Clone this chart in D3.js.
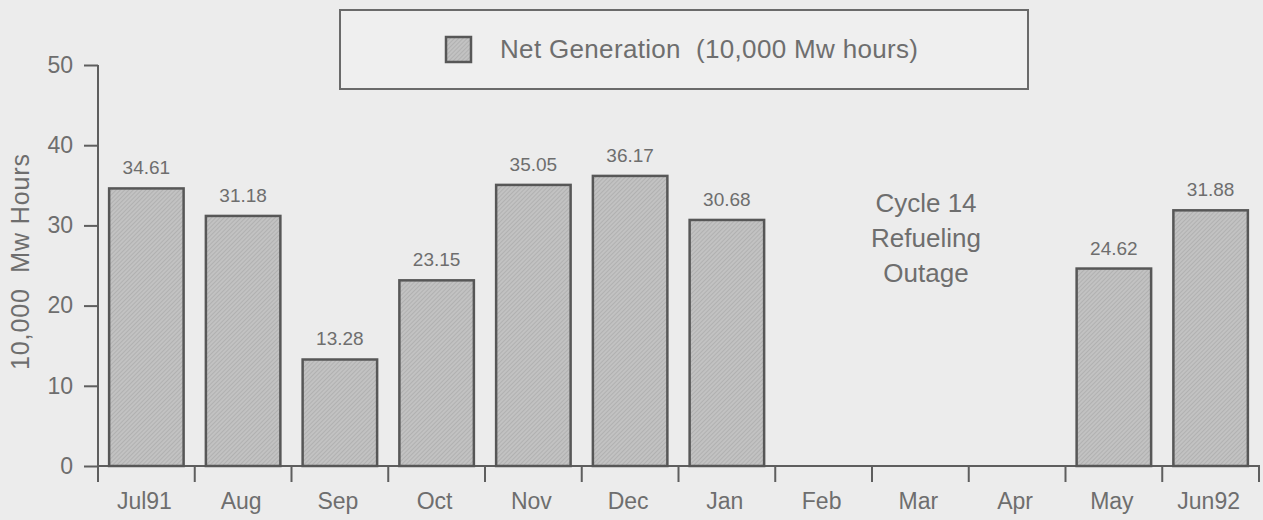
<!DOCTYPE html>
<html>
<head>
<meta charset="utf-8">
<script src="https://cdn.jsdelivr.net/npm/d3@7"></script>
<style>
  html, body { margin: 0; padding: 0; background: #ececec; }
  svg { display: block; }
  text { font-family: "Liberation Sans", Arial, Helvetica, sans-serif; fill: #6e6e6e; }
</style>
</head>
<body>
<svg id="chart" width="1263" height="520"></svg>
<script>
const categories = ["Jul91", "Aug", "Sep", "Oct", "Nov", "Dec", "Jan", "Feb", "Mar", "Apr", "May", "Jun92"];
const netGeneration = [34.61, 31.18, 13.28, 23.15, 35.05, 36.17, 30.68, null, null, null, 24.62, 31.88];
const yTicks = [0, 10, 20, 30, 40, 50];
const legendLabel = "Net Generation  (10,000 Mw hours)";
const yTitle = "10,000  Mw Hours";
const outageNote = ["Cycle 14", "Refueling", "Outage"];

const svg = d3.select("#chart");
svg.append("rect").attr("width", 1263).attr("height", 520).attr("fill", "#ececec");

const defs = svg.append("defs");
const pat = defs.append("pattern")
  .attr("id", "hatch").attr("patternUnits", "userSpaceOnUse")
  .attr("width", 3).attr("height", 3).attr("patternTransform", "rotate(45)");
pat.append("rect").attr("width", 3).attr("height", 3).attr("fill", "#c2c2c2");
pat.append("line").attr("x1", 0).attr("y1", 0).attr("x2", 0).attr("y2", 3)
  .attr("stroke", "#a6a6a6").attr("stroke-width", 1.2);

const x = d3.scaleBand().domain(categories).range([98, 1259]).padding(0);
const y = d3.scaleLinear().domain([0, 50]).range([466, 65]);
const barW = x.bandwidth() * 0.77;

// Y axis
const yAxis = svg.append("g").attr("transform", "translate(98,0)")
  .call(d3.axisLeft(y).tickValues(yTicks).tickSize(14).tickPadding(11));
yAxis.select(".domain").attr("stroke", "#5e5e5e").attr("stroke-width", 2).attr("d", `M0,${y(0)}V${y(50)}`);
yAxis.selectAll(".tick line").attr("stroke", "#5e5e5e").attr("stroke-width", 2);
yAxis.selectAll(".tick text").attr("font-size", 23).attr("fill", "#727272")
  .attr("font-family", "Liberation Sans, Arial, sans-serif");

// X axis (labels at band centers, ticks at band boundaries)
const xAxis = svg.append("g").attr("transform", `translate(0,${y(0)})`)
  .call(d3.axisBottom(x).tickSize(0).tickPadding(27));
xAxis.select(".domain").attr("stroke", "#5e5e5e").attr("stroke-width", 2).attr("d", `M${98},0H${1260}`);
xAxis.selectAll(".tick text").attr("font-size", 23).attr("fill", "#727272")
  .attr("font-family", "Liberation Sans, Arial, sans-serif")
  .attr("dx", -2);
const boundaries = categories.map(c => x(c)).concat([x(categories[categories.length - 1]) + x.bandwidth()]);
xAxis.selectAll(".bnd").data(boundaries).join("line").attr("class", "bnd")
  .attr("x1", d => d).attr("x2", d => d).attr("y1", 0).attr("y2", 16)
  .attr("stroke", "#5e5e5e").attr("stroke-width", 2);

// Bars
const data = categories.map((c, i) => ({ c, v: netGeneration[i] })).filter(d => d.v !== null);
svg.append("g").selectAll("rect").data(data).join("rect")
  .attr("x", d => x(d.c) + (x.bandwidth() - barW) / 2)
  .attr("y", d => y(d.v))
  .attr("width", barW)
  .attr("height", d => y(0) - y(d.v))
  .attr("fill", "url(#hatch)")
  .attr("stroke", "#575757").attr("stroke-width", 2.5);

svg.append("g").selectAll("text").data(data).join("text")
  .attr("x", d => x(d.c) + x.bandwidth() / 2)
  .attr("y", d => y(d.v) - 14)
  .attr("text-anchor", "middle").attr("font-size", 19).attr("fill", "#7a7a7a")
  .text(d => d.v.toFixed(2));

// Outage note
svg.append("g").selectAll("text").data(outageNote).join("text")
  .attr("x", 926).attr("y", (d, i) => 212 + i * 35)
  .attr("text-anchor", "middle").attr("font-size", 26).attr("fill", "#727272")
  .text(d => d);

// Y title
svg.append("text")
  .attr("transform", "translate(29,262) rotate(-90)")
  .attr("text-anchor", "middle").attr("font-size", 25).attr("fill", "#727272")
  .style("white-space", "pre")
  .attr("textLength", 216)
  .text(yTitle);

// Legend
const lg = svg.append("g");
lg.append("rect").attr("x", 340).attr("y", 10).attr("width", 688).attr("height", 79)
  .attr("fill", "#efefef").attr("stroke", "#6a6a6a").attr("stroke-width", 2);
lg.append("rect").attr("x", 446).attr("y", 37).attr("width", 25).attr("height", 25)
  .attr("fill", "url(#hatch)").attr("stroke", "#575757").attr("stroke-width", 2.5);
lg.append("text").attr("x", 500).attr("y", 58).attr("font-size", 26).attr("fill", "#727272")
  .style("white-space", "pre")
  .attr("textLength", 418)
  .text(legendLabel);
</script>
</body>
</html>
